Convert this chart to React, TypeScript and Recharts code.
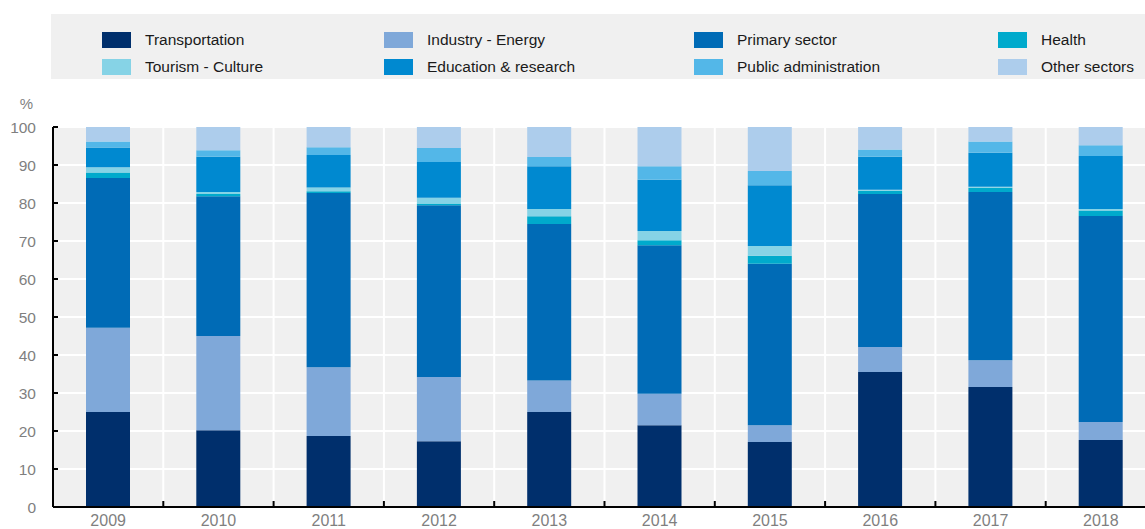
import { Bar, BarChart, CartesianGrid, Legend, XAxis, YAxis } from "recharts";

const years = ["2009", "2010", "2011", "2012", "2013", "2014", "2015", "2016", "2017", "2018"];

const transportation = [25.0, 20.2, 18.7, 17.3, 25.0, 21.5, 17.1, 35.5, 31.6, 17.6];
const industryEnergy = [22.2, 24.8, 18.1, 16.9, 8.3, 8.3, 4.4, 6.6, 7.0, 4.8];
const primarySector = [39.4, 36.8, 45.8, 45.2, 41.2, 39.1, 42.5, 40.3, 44.3, 54.2];
const health = [1.4, 0.6, 0.5, 0.5, 2.0, 1.3, 2.1, 0.8, 1.1, 1.4];
const tourismCulture = [1.4, 0.5, 1.0, 1.5, 1.9, 2.4, 2.6, 0.3, 0.3, 0.4];
const educationResearch = [5.2, 9.3, 8.5, 9.4, 11.3, 13.5, 16.0, 8.7, 8.9, 14.0];
const publicAdministration = [1.6, 1.7, 2.1, 3.7, 2.4, 3.6, 3.7, 1.9, 3.0, 2.8];
const otherSectors = [3.8, 6.1, 5.3, 5.5, 7.9, 10.3, 11.6, 5.9, 3.8, 4.8];

const yTicks = [0, 10, 20, 30, 40, 50, 60, 70, 80, 90, 100];

const series = [
  { key: "transportation", name: "Transportation", values: transportation, color: "#002F6C" },
  { key: "industryEnergy", name: "Industry - Energy", values: industryEnergy, color: "#7FA8D9" },
  { key: "primarySector", name: "Primary sector", values: primarySector, color: "#006BB6" },
  { key: "health", name: "Health", values: health, color: "#00AACC" },
  { key: "tourismCulture", name: "Tourism - Culture", values: tourismCulture, color: "#86D3E6" },
  { key: "educationResearch", name: "Education & research", values: educationResearch, color: "#0089D0" },
  { key: "publicAdministration", name: "Public administration", values: publicAdministration, color: "#53B7E8" },
  { key: "otherSectors", name: "Other sectors", values: otherSectors, color: "#ADCDEC" },
];

const data = years.map((year, i) => {
  const row: Record<string, string | number> = { year };
  series.forEach(s => { row[s.key] = s.values[i]; });
  return row;
});

const X_TICK_MARGIN = 8;

// year label plus a small upward tick at the left edge of each category band
function YearTick(props: any) {
  const { x, y, payload, index } = props;
  const half = payload?.offset ?? 0;
  const axisY = y - X_TICK_MARGIN;
  return (
    <g>
      {index > 0 && half > 0 && (
        <line x1={x - half} x2={x - half} y1={axisY} y2={axisY - 6} stroke="#000" strokeWidth={2} />
      )}
      <text x={x} y={y} dy="0.71em" textAnchor="middle" fill="#7f7f7f" fontSize={16}>
        {payload.value}
      </text>
    </g>
  );
}

// grid verticals sit on the category boundaries, not on the centres
const boundaryLines = ({ offset }: any) =>
  years.slice(1).map((_, i) => offset.left + (offset.width * (i + 1)) / years.length);

function LegendBox() {
  return (
    <div
      style={{
        background: "#f0f0f0",
        height: 65,
        boxSizing: "border-box",
        paddingTop: 12,
        paddingLeft: 51,
        display: "grid",
        gridTemplateColumns: "282px 310px 304px 150px",
        gridAutoRows: 27,
        color: "#1a1a1a",
        fontSize: 15.5,
      }}
    >
      {series.map(s => (
        <div key={s.key} style={{ display: "flex", alignItems: "center" }}>
          <span style={{ width: 29, height: 16, background: s.color, marginRight: 14, flex: "none" }} />
          <span>{s.name}</span>
        </div>
      ))}
    </div>
  );
}

export default function App() {
  return (
    <div
      style={{
        position: "absolute",
        left: 0,
        top: 0,
        width: 1145,
        height: 529,
        overflow: "hidden",
        background: "#fff",
        fontFamily: "'Liberation Sans', Arial, sans-serif",
      }}
    >
      <BarChart width={1156} height={529} data={data} margin={{ top: 62, right: 0, bottom: 0, left: 0 }}>
        <CartesianGrid
          fill="#f0f0f0"
          fillOpacity={1}
          stroke="#ffffff"
          strokeWidth={2}
          verticalCoordinatesGenerator={boundaryLines}
        />
        <XAxis
          dataKey="year"
          height={22}
          tickLine={false}
          tickSize={0}
          tickMargin={X_TICK_MARGIN}
          axisLine={{ stroke: "#000", strokeWidth: 2 }}
          tick={<YearTick />}
        />
        <YAxis
          width={53}
          domain={[0, 100]}
          ticks={yTicks}
          interval={0}
          tickSize={-5}
          tickMargin={22}
          axisLine={{ stroke: "#000", strokeWidth: 2 }}
          tickLine={{ stroke: "#000", strokeWidth: 2 }}
          tick={{ fill: "#7f7f7f", fontSize: 15.5 }}
          label={{ value: "%", position: "top", offset: 18, fill: "#7f7f7f", fontSize: 15 }}
        />
        <Legend
          verticalAlign="top"
          content={() => <LegendBox />}
          wrapperStyle={{ top: 14, left: 51, width: 1094, height: 65 }}
        />
        {series.map(s => (
          <Bar
            key={s.key}
            dataKey={s.key}
            name={s.name}
            stackId="a"
            fill={s.color}
            barSize={44}
            isAnimationActive={false}
          />
        ))}
      </BarChart>
    </div>
  );
}
